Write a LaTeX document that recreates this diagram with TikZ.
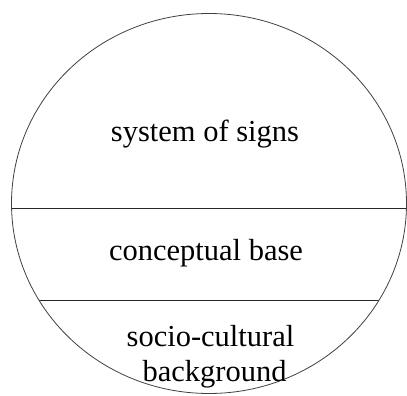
\documentclass[tikz,border=0pt]{standalone}
\usepackage{fontspec}
\setmainfont{Liberation Serif}
\begin{document}
\begin{tikzpicture}[x=1pt,y=-1pt,line width=0.8pt,
  schicht/.style={anchor=base,inner sep=0pt,font=\fontsize{30.5}{35}\selectfont}]
\useasboundingbox (0,0) rectangle (407,396);
\def\rand{(209,203.5) ellipse [x radius=197.5, y radius=190]}
\begin{scope}
\clip \rand;
\draw[black!85] (0,208.5) -- (407,208.5);
\draw[black!85] (0,300) -- (407,300);
\end{scope}
\draw[black!75] \rand;
\node (zeichen) at (205,141.7) [schicht] {system of signs};
\node (basis) at (206,260) [schicht] {conceptual base};
\node (sozio) at (210.5,346.7) [schicht] {socio-cultural};
\node (hinter) at (214.5,381.7) [schicht] {background};
\end{tikzpicture}
\end{document}
